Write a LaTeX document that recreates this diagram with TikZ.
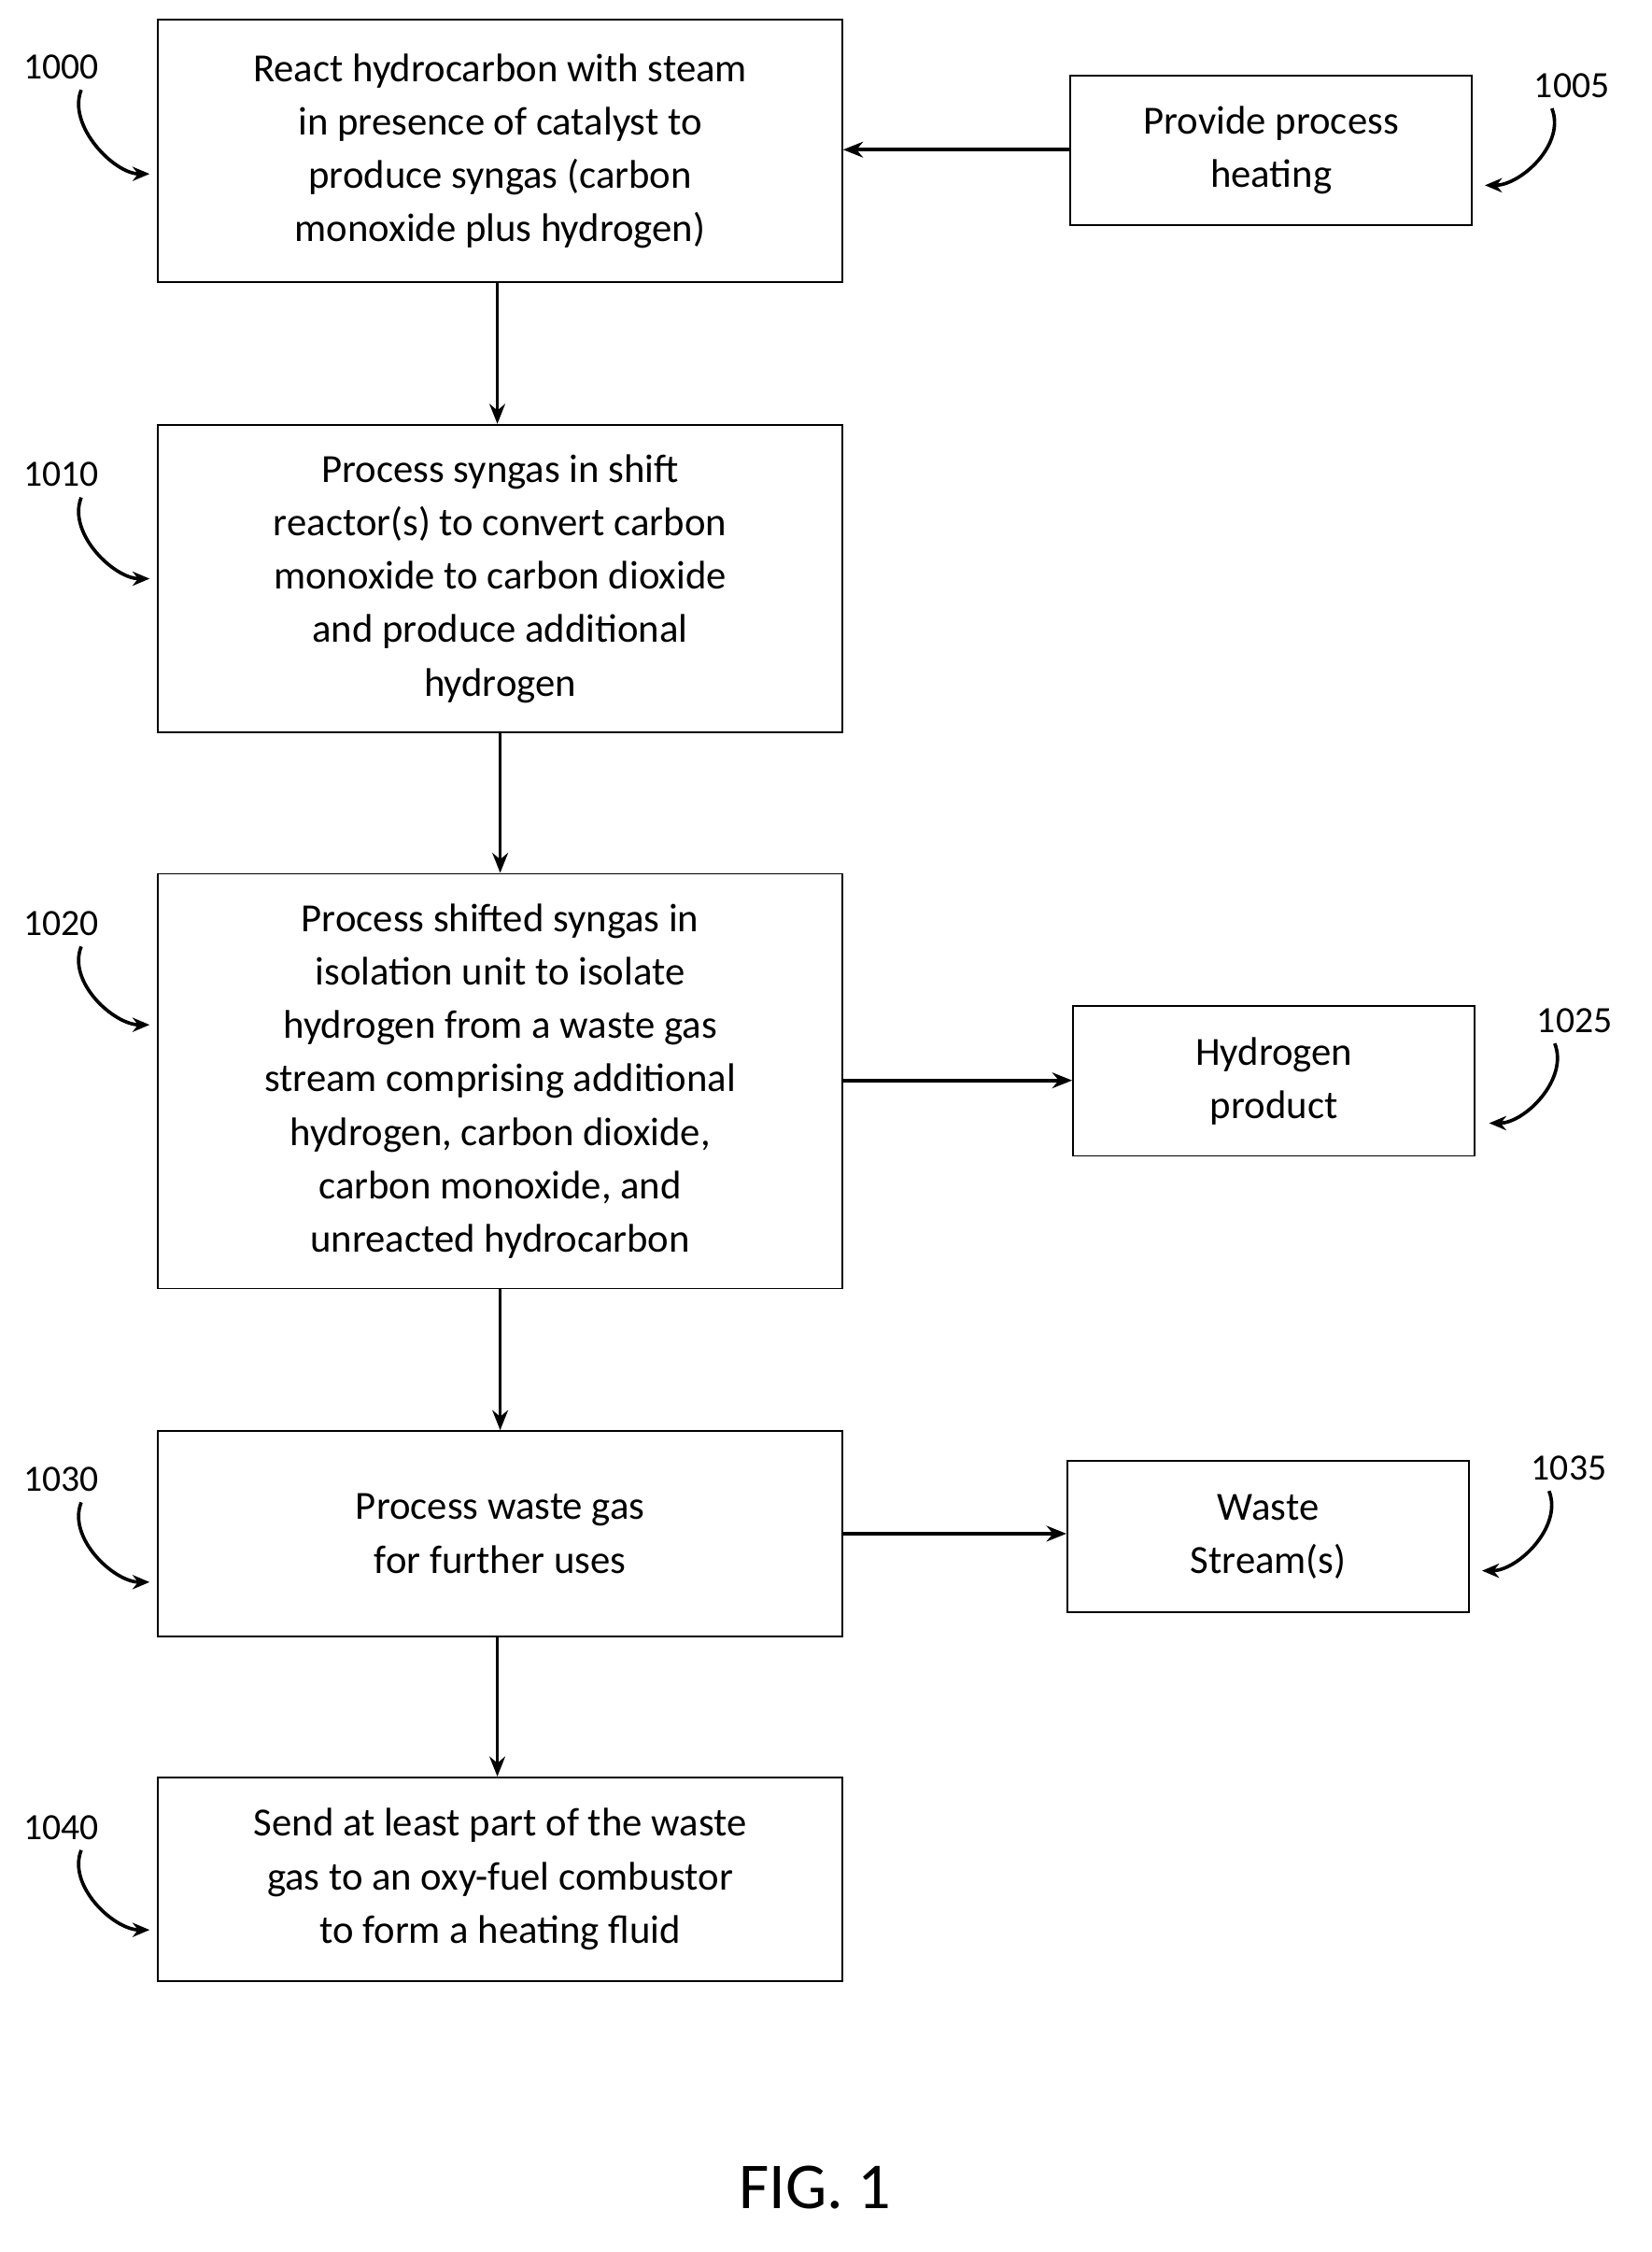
\documentclass[tikz,border=0pt]{standalone}
\usepackage{fontspec}
\setmainfont{Carlito}
\usetikzlibrary{arrows.meta}
\begin{document}
\begin{tikzpicture}[x=1pt,y=-1pt,
  box/.style={draw,line width=1.2pt,align=center,inner sep=0pt,font=\fontsize{28}{37.5}\selectfont},
  arr/.style={-{Stealth[length=14pt,width=11pt]},line width=2.4pt},
  lab/.style={font=\fontsize{26}{30}\selectfont},
  curv/.style={-{Stealth[length=12pt,width=10pt]},line width=2.4pt}]
\useasboundingbox (0,0) rectangle (1159,1580);
\node[box,minimum width=480pt,minimum height=184pt] (b1000) at (351,106) {React hydrocarbon with steam\\in presence of catalyst to\\produce syngas (carbon\\monoxide plus hydrogen)};
\node[box,minimum width=282pt,minimum height=105pt] (b1005) at (892,105.5) {Provide process\\heating};
\node[box,minimum width=480pt,minimum height=216pt] (b1010) at (351,406) {Process syngas in shift\\reactor(s) to convert carbon\\monoxide to carbon dioxide\\and produce additional\\hydrogen};
\node[box,minimum width=480pt,minimum height=291pt] (b1020) at (351,758.5) {Process shifted syngas in\\isolation unit to isolate\\hydrogen from a waste gas\\stream comprising additional\\hydrogen, carbon dioxide,\\carbon monoxide, and\\unreacted hydrocarbon};
\node[box,minimum width=282pt,minimum height=105pt] (b1025) at (894,758.5) {Hydrogen\\product};
\node[box,minimum width=480pt,minimum height=144pt] (b1030) at (351,1076) {Process waste gas\\for further uses};
\node[box,minimum width=282pt,minimum height=106pt] (b1035) at (890,1078) {Waste\\Stream(s)};
\node[box,minimum width=480pt,minimum height=143pt] (b1040) at (351,1318.5) {Send at least part of the waste\\gas to an oxy-fuel combustor\\to form a heating fluid};
\draw[arr] (b1000.south -| 349,0) -- (b1010.north -| 349,0);
\draw[arr] (b1010.south) -- (b1020.north);
\draw[arr] (b1020.south) -- (b1030.north);
\draw[arr] (b1030.south -| 349,0) -- (b1040.north -| 349,0);
\draw[arr] (b1005.west |- 0,105) -- (b1000.east |- 0,105);
\draw[arr] (b1020.east |- 0,758) -- (b1025.west |- 0,758);
\draw[arr] (b1030.east |- 0,1076) -- (b1035.west |- 0,1076);
\node[lab] (l1000) at (43,47) {1000};
\node[lab] (l1010) at (43,333) {1010};
\node[lab] (l1020) at (43,648) {1020};
\node[lab] (l1030) at (43,1038) {1030};
\node[lab] (l1040) at (43,1282) {1040};
\node[lab] (l1005) at (1103,60) {1005};
\node[lab] (l1025) at (1105,716) {1025};
\node[lab] (l1035) at (1101,1030) {1035};
\foreach \n/\y in {l1000/122,l1010/406,l1020/719,l1030/1110,l1040/1354}{
  \draw[curv] ([xshift=14pt,yshift=-4pt]\n.south) .. controls +(-10,25) and +(-25,0) .. (105,\y);
}
\foreach \n/\y/\x in {l1005/130/1042,l1025/788/1045,l1035/1102/1040}{
  \draw[curv] ([xshift=-14pt,yshift=-4pt]\n.south) .. controls +(10,25) and +(25,0) .. (\x,\y);
}
\node[font=\fontsize{46}{50}\selectfont] (fig) at (572,1535) {FIG. 1};
\end{tikzpicture}
\end{document}
